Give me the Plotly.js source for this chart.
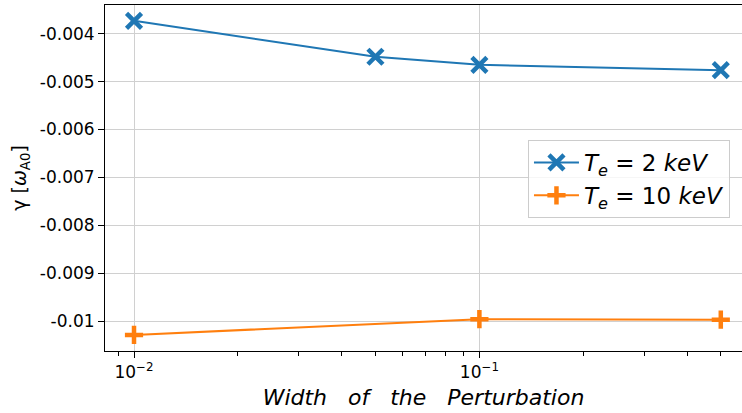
<!DOCTYPE html>
<html><head><meta charset="utf-8">
<script src="https://cdn.plot.ly/plotly-3.0.1.min.js"></script>
<style>html,body{margin:0;padding:0;background:#fff}</style>
</head><body>
<div id="chart" style="width:742px;height:413px"></div>
<script>
const widths2 = [0.01, 0.05, 0.1, 0.5];
const gamma2 = [-0.00373, -0.00448, -0.00465, -0.00476];
const widths10 = [0.01, 0.1, 0.5];
const gamma10 = [-0.01029, -0.00996, -0.00997];
const name2 = '<i>T</i><sub><i>e</i></sub> = 2 <i>keV</i>';
const name10 = '<i>T</i><sub><i>e</i></sub> = 10 <i>keV</i>';
const yTickVals = [-0.004, -0.005, -0.006, -0.007, -0.008, -0.009, -0.01];
const yTickText = ['-0.004', '-0.005', '-0.006', '-0.007', '-0.008', '-0.009', '-0.01'];
const xTickVals = [0.01, 0.1];
const xTickText = ['10<sup>−2</sup>', '10<sup>−1</sup>'];
const xMinorVals = [0.009, 0.02, 0.03, 0.04, 0.05, 0.06, 0.07, 0.08, 0.09, 0.2, 0.3, 0.4, 0.5];

const tickFont = {family: 'DejaVu Sans', size: 17, color: '#000'};
const traces = [
  {x: widths2, y: gamma2, name: name2, mode: 'lines+markers', type: 'scatter',
   line: {color: '#1f77b4', width: 2},
   marker: {symbol: 'x-thin', size: 15, color: '#1f77b4', line: {color: '#1f77b4', width: 4.5}}},
  {x: widths10, y: gamma10, name: name10, mode: 'lines+markers', type: 'scatter',
   line: {color: '#ff7f0e', width: 2},
   marker: {symbol: 'cross-thin', size: 13, color: '#ff7f0e', line: {color: '#ff7f0e', width: 4.5}}}
];
const layout = {
  width: 742, height: 413,
  margin: {l: 105, r: 0, t: 5, b: 62},
  paper_bgcolor: '#fff', plot_bgcolor: '#fff',
  font: {family: 'DejaVu Sans', color: '#000', size: 15},
  showlegend: true,
  legend: {x: 0.664, y: 0.61, xanchor: 'left', yanchor: 'top',
    bgcolor: 'rgba(255,255,255,0.8)', bordercolor: '#cccccc', borderwidth: 1,
    font: {size: 23, family: 'DejaVu Sans', color: '#000'}, itemwidth: 45, tracegroupgap: 2},
  xaxis: {type: 'log', range: [Math.log10(0.01) - 0.084, Math.log10(0.5) + 0.0614],
    tickmode: 'array', tickvals: xTickVals, ticktext: xTickText,
    ticks: 'outside', ticklen: 6, tickwidth: 1, tickcolor: '#000',
    tickfont: tickFont,
    showgrid: true, gridcolor: '#d0d0d0', gridwidth: 1,
    showline: true, linecolor: '#000', linewidth: 1, mirror: true, zeroline: false,
    minor: {tickmode: 'array', tickvals: xMinorVals, ticks: 'outside', ticklen: 3.5, tickcolor: '#000', showgrid: false},
    title: {text: '<i>Width   of   the   Perturbation</i>', font: {size: 22, family: 'DejaVu Sans', color: '#000'}, standoff: 8}},
  yaxis: {range: [-0.010625, -0.0034],
    tickmode: 'array', tickvals: yTickVals, ticktext: yTickText,
    ticks: 'outside', ticklen: 6, tickwidth: 1, tickcolor: '#000',
    tickfont: tickFont,
    showgrid: true, gridcolor: '#d0d0d0', gridwidth: 1,
    showline: true, linecolor: '#000', linewidth: 1, mirror: true, zeroline: false,
    title: {text: 'γ [<i>ω</i><sub>A0</sub>]', font: {size: 19, family: 'DejaVu Sans', color: '#000'}, standoff: 8}}
};
Plotly.newPlot('chart', traces, layout, {displayModeBar: false, staticPlot: true});
</script>
</body></html>
